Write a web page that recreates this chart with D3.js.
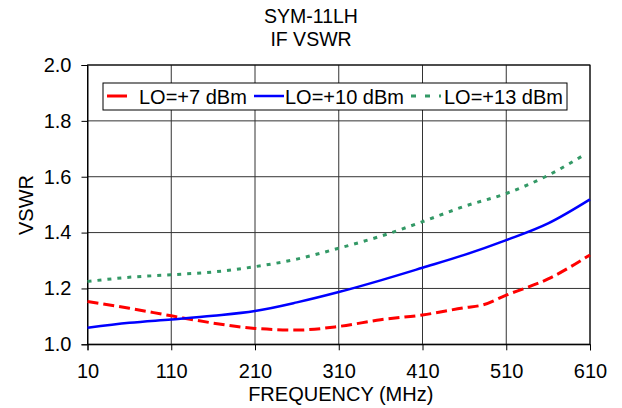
<!DOCTYPE html>
<html><head><meta charset="utf-8">
<script src="https://cdn.jsdelivr.net/npm/d3@7"></script>
<style>
body{margin:0;background:#fff;}
text{font-family:"Liberation Sans",Arial,sans-serif;fill:#000;}
</style></head>
<body><svg id="c" width="622" height="408"></svg>
<script>
const titleLines = ["SYM-11LH", "IF VSWR"];
const xLabel = "FREQUENCY (MHz)";
const yLabel = "VSWR";
const xTicks = [10, 110, 210, 310, 410, 510, 610];
const yTicks = [1.0, 1.2, 1.4, 1.6, 1.8, 2.0];
const seriesNames = ["LO=+7 dBm", "LO=+10 dBm", "LO=+13 dBm"];

const freqLO7  = [10, 60, 110, 160, 210, 260, 310, 360, 410, 460, 482, 510, 560, 610];
const vswrLO7  = [1.153, 1.129, 1.102, 1.076, 1.057, 1.051, 1.064, 1.088, 1.105, 1.131, 1.141, 1.176, 1.234, 1.32];
const freqLO10 = [10, 60, 110, 160, 210, 260, 310, 360, 410, 460, 510, 560, 610];
const vswrLO10 = [1.059, 1.077, 1.089, 1.102, 1.119, 1.15, 1.187, 1.229, 1.274, 1.32, 1.373, 1.433, 1.519];
const freqLO13 = [10, 60, 110, 160, 210, 260, 310, 360, 410, 460, 510, 560, 604];
const vswrLO13 = [1.225, 1.24, 1.249, 1.259, 1.278, 1.305, 1.344, 1.387, 1.439, 1.494, 1.54, 1.605, 1.68];

const series = [
  {name: seriesNames[0], f: freqLO7,  v: vswrLO7,  color: "#ff0000", dash: "11,5", width: 3},
  {name: seriesNames[1], f: freqLO10, v: vswrLO10, color: "#0000ff", dash: null,   width: 2.5},
  {name: seriesNames[2], f: freqLO13, v: vswrLO13, color: "#339966", dash: "4,6",  width: 3}
];

const svg = d3.select("#c");
const m = {l: 87.5, r: 590, t: 65, b: 344.3};
const x = d3.scaleLinear().domain([10, 610]).range([m.l, m.r]);
const y = d3.scaleLinear().domain([1.0, 2.0]).range([m.b, m.t]);

// grid
const g = svg.append("g");
g.selectAll(".vg").data(xTicks).enter().append("line")
  .attr("x1", d => x(d)).attr("x2", d => x(d)).attr("y1", m.t).attr("y2", m.b)
  .attr("stroke", "#333").attr("stroke-width", 1);
g.selectAll(".hg").data(yTicks).enter().append("line")
  .attr("x1", m.l).attr("x2", m.r).attr("y1", d => y(d)).attr("y2", d => y(d))
  .attr("stroke", "#333").attr("stroke-width", 1);
svg.append("rect").attr("x", m.l).attr("y", m.t).attr("width", m.r - m.l).attr("height", m.b - m.t)
  .attr("fill", "none").attr("stroke", "#000").attr("stroke-width", 1);

// axes
const xa = svg.append("g").attr("transform", `translate(0,${m.b})`)
  .call(d3.axisBottom(x).tickValues(xTicks).tickSize(6).tickPadding(14).tickFormat(d3.format("d")));
const ya = svg.append("g").attr("transform", `translate(${m.l},0)`)
  .call(d3.axisLeft(y).tickValues(yTicks).tickSize(6).tickPadding(10).tickFormat(d3.format(".1f")));
[xa, ya].forEach(a => {
  a.select(".domain").attr("stroke", "#000");
  a.selectAll(".tick line").attr("stroke", "#000");
  a.selectAll("text").attr("font-size", 20).attr("font-family", '"Liberation Sans",Arial,sans-serif').attr("fill", "#000");
});

// lines
const line = d3.line().curve(d3.curveMonotoneX);
series.forEach(s => {
  const pts = s.f.map((f, i) => [x(f), y(s.v[i])]);
  svg.append("path").attr("d", line(pts)).attr("fill", "none")
    .attr("stroke", s.color).attr("stroke-width", s.width)
    .attr("stroke-dasharray", s.dash);
});

// titles
svg.selectAll(".title").data(titleLines).enter().append("text")
  .attr("x", 311).attr("y", (d, i) => 23 + i * 23).attr("text-anchor", "middle")
  .attr("font-size", 19.5).text(d => d);
svg.append("text").attr("x", (m.l + m.r) / 2 + 2).attr("y", 401).attr("text-anchor", "middle")
  .attr("font-size", 20).text(xLabel);
svg.append("text").attr("transform", "translate(33,205) rotate(-90)").attr("text-anchor", "middle")
  .attr("font-size", 20).text(yLabel);

// legend
const lg = svg.append("g");
lg.append("rect").attr("x", 103).attr("y", 83).attr("width", 464).attr("height", 27)
  .attr("fill", "#fff").attr("stroke", "#000").attr("stroke-width", 1);
const legX = [107, 254, 411];
const legDash = ["20,12", null, "5,9"];
series.forEach((s, i) => {
  lg.append("line").attr("x1", legX[i]).attr("x2", legX[i] + 30).attr("y1", 96).attr("y2", 96)
    .attr("stroke", s.color).attr("stroke-width", s.width).attr("stroke-dasharray", legDash[i]);
  lg.append("text").attr("x", legX[i] + (i === 0 ? 32 : i === 1 ? 31 : 33)).attr("y", 103.5)
    .attr("font-size", 20).text(s.name);
});
</script></body></html>
